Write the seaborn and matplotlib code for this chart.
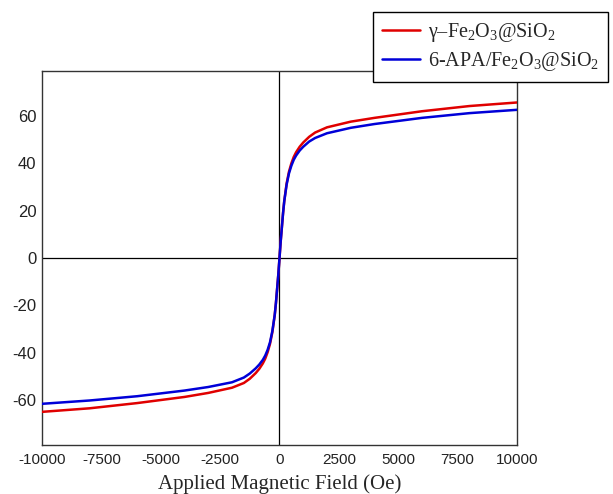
import numpy as np
import pandas as pd
import matplotlib
matplotlib.use("Agg")
import matplotlib.pyplot as plt
import seaborn as sns
from matplotlib.lines import Line2D

# Data
field = [-10000, -8000, -6000, -4000, -3000, -2000, -1500, -1250, -1000, -850, -700, -600, -500, -400,
         -300, -200, -150, -100, -50, 0,
         50, 100, 150, 200, 300, 400, 500, 600, 700, 850, 1000, 1250, 1500, 2000, 3000, 4000, 6000,
         8000, 10000]
m_red = [-65.0, -63.5, -61.3, -58.7, -57.0, -54.8, -52.8, -51.0, -48.6, -46.8, -44.5, -42.5, -39.8, -36.3,
         -31.3, -24.0, -19.0, -13.0, -7.0, 0.0,
         7.0, 13.0, 19.0, 24.0, 31.5, 36.5, 40.0, 42.7, 44.7, 47.0, 48.8, 51.2, 53.0, 55.2, 57.6, 59.2,
         62.0, 64.2, 65.7]
m_blue = [-61.6, -60.2, -58.4, -56.0, -54.5, -52.5, -50.5, -48.8, -46.6, -45.0, -43.0, -41.2, -38.8, -35.6,
          -30.8, -24.0, -19.0, -13.0, -7.0, 0.0,
          7.0, 13.0, 19.0, 24.0, 31.0, 35.8, 39.0, 41.5, 43.3, 45.4, 47.0, 49.2, 50.7, 52.7, 55.0, 56.6,
          59.2, 61.2, 62.6]
labels = ["γ–Fe$_2$O$_3$@SiO$_2$", "6-APA/Fe$_2$O$_3$@SiO$_2$"]
xticks = [-10000, -7500, -5000, -2500, 0, 2500, 5000, 7500, 10000]
yticks = [-60, -40, -20, 0, 20, 40, 60]

sns.set_style("white")
plt.rcParams["font.family"] = ["Liberation Sans", "DejaVu Sans"]
plt.rcParams["mathtext.fontset"] = "custom"
plt.rcParams["mathtext.rm"] = "Liberation Serif"
plt.rcParams["mathtext.it"] = "Liberation Serif:italic"
plt.rcParams["mathtext.bf"] = "Liberation Serif:bold"

df = pd.DataFrame({
    "field": field * 2,
    "m": m_red + m_blue,
    "sample": [labels[0]] * len(field) + [labels[1]] * len(field),
})

fig = plt.figure(figsize=(6.13, 4.94), dpi=100)
ax = fig.add_axes([42 / 613, 1 - 445 / 494, (517 - 42) / 613, (445 - 71) / 494])

ax.axhline(0, color="black", lw=0.9, zorder=1)
ax.axvline(0, color="black", lw=0.9, zorder=1)

sns.lineplot(data=df, x="field", y="m", hue="sample", palette=["#e00000", "#0000d8"],
             sort=False, estimator=None, lw=1.8, ax=ax, legend=False, zorder=3)

ax.set_xlim(-10000, 10000)
ax.set_ylim(-79, 79)
ax.set_xticks(xticks)
ax.set_xticklabels([str(t) for t in xticks])
ax.set_yticks(yticks)
ax.set_yticklabels([str(t) for t in yticks])
ax.tick_params(axis="x", length=0, labelsize=11, colors="#222222", pad=6)
ax.tick_params(axis="y", length=0, labelsize=12, colors="#222222", pad=4)
ax.set_xlabel("Applied Magnetic Field (Oe)", fontsize=15, family="Liberation Serif", labelpad=5)
ax.set_ylabel("")
for s in ax.spines.values():
    s.set_color("#333333")
    s.set_linewidth(1.0)

handles = [Line2D([], [], color="#e00000", lw=1.8), Line2D([], [], color="#0000d8", lw=1.8)]
leg = fig.legend(handles, labels, loc="upper right", bbox_to_anchor=(608 / 613, 1 - 12 / 494),
                 frameon=True, fancybox=False, edgecolor="black", framealpha=1,
                 prop={"family": "Liberation Serif", "size": 14.5}, handlelength=1.9,
                 handletextpad=0.4, borderpad=0.45, labelspacing=0.3, borderaxespad=0)
leg.get_frame().set_linewidth(1.0)

fig.savefig("out.png", dpi=100)
